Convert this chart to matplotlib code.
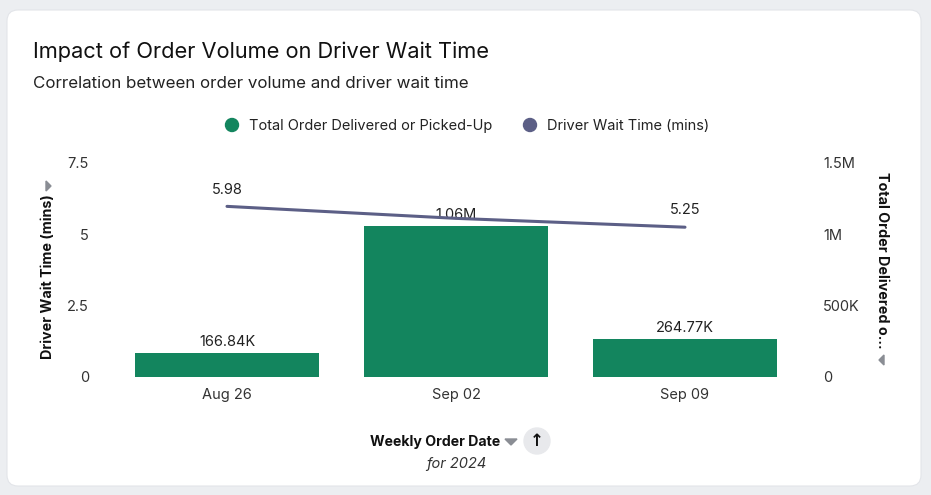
import numpy as np
import matplotlib
matplotlib.use('Agg')
import matplotlib.pyplot as plt
from matplotlib.patches import FancyBboxPatch, Circle, Polygon
from matplotlib.ticker import FixedLocator

plt.rcParams['font.family'] = ['Inter', 'DejaVu Sans']

weeks = ['Aug 26', 'Sep 02', 'Sep 09']
orders = [166840, 1060000, 264770]
order_labels = ['166.84K', '1.06M', '264.77K']
wait_time = [5.98, 5.56, 5.25]
wait_labels = ['5.98', '', '5.25']
left_ticks = [0, 2.5, 5, 7.5]
left_tick_labels = ['0', '2.5', '5', '7.5']
right_ticks = [0, 500000, 1000000, 1500000]
right_tick_labels = ['0', '500K', '1M', '1.5M']

GREEN = '#13855e'
PURPLE = '#5c5f86'
W, H = 931, 495


def px(x, y):
    return x / W, 1 - y / H


def inch(x, y):
    # pixel position -> inches from bottom-left, for round shapes
    return x / 100, (H - y) / 100


fig = plt.figure(figsize=(W / 100, H / 100), dpi=100)
fig.patch.set_facecolor('#eceef1')
tr = fig.dpi_scale_trans

# white card
card = FancyBboxPatch(inch(7, 486), 9.14, 4.76,
                      boxstyle='round,pad=0,rounding_size=0.11',
                      transform=tr, facecolor='white',
                      edgecolor='#e3e5e9', linewidth=0.8, zorder=0)
fig.add_artist(card)

ax = fig.add_axes([112.5 / W, 1 - 377 / H, 687 / W, 214 / H])
ax.set_facecolor('none')
ax2 = ax.twinx()

x = np.arange(len(weeks))

# bars on right axis
ax2.bar(x, orders, width=0.8, color=GREEN, zorder=2)
ax2.set_ylim(0, 1500000)
for xi, v, lab in zip(x, orders, order_labels):
    ax2.annotate(lab, (xi, v), xytext=(0, 3), textcoords='offset points',
                 ha='center', va='bottom', fontsize=10.5, color='#222222')

# line on left axis (drawn above bars)
ax.set_zorder(ax2.get_zorder() + 1)
ax.plot(x, wait_time, color=PURPLE, linewidth=2.2, solid_capstyle='round')
ax.set_ylim(0, 7.5)
for xi, v, lab in zip(x, wait_time, wait_labels):
    if lab:
        ax.annotate(lab, (xi, v), xytext=(0, 7), textcoords='offset points',
                    ha='center', va='bottom', fontsize=10.5, color='#222222')

ax.set_xlim(-0.5, 2.5)
ax.set_xticks(x)
ax.set_xticklabels(weeks)
ax.yaxis.set_major_locator(FixedLocator(left_ticks))
ax.set_yticklabels(left_tick_labels)
ax2.yaxis.set_major_locator(FixedLocator(right_ticks))
ax2.set_yticklabels(right_tick_labels)

for a in (ax, ax2):
    for s in a.spines.values():
        s.set_visible(False)
    a.tick_params(length=0, labelsize=10.5, labelcolor='#333333')
ax.tick_params(axis='y', pad=17)
ax2.tick_params(axis='y', pad=17)
ax.tick_params(axis='x', pad=8)

# axis titles
fig.text(*px(48, 277), 'Driver Wait Time (mins)', rotation=90, ha='center',
         va='center', fontsize=10.3, fontweight='bold', color='#111111')
fig.text(*px(882, 260), 'Total Order Delivered o...', rotation=-90, ha='center',
         va='center', fontsize=10.3, fontweight='bold', color='#111111')
fig.add_artist(Polygon([px(46, 181), px(46, 191), px(51, 186)], closed=True,
                       transform=fig.transFigure, color='#8a8d94'))
fig.add_artist(Polygon([px(884, 355), px(884, 365), px(879, 360)], closed=True,
                       transform=fig.transFigure, color='#8a8d94'))

# title and subtitle
fig.text(*px(33, 52), 'Impact of Order Volume on Driver Wait Time', ha='left',
         va='center', fontsize=15.7, color='#111111')
fig.text(*px(33, 84), 'Correlation between order volume and driver wait time',
         ha='left', va='center', fontsize=12.2, color='#222222')

# legend
fig.add_artist(Circle(inch(232, 125), 0.065, transform=tr, color=GREEN))
fig.text(*px(249, 126), 'Total Order Delivered or Picked-Up', ha='left',
         va='center', fontsize=10.5, color='#222222')
fig.add_artist(Circle(inch(530, 125), 0.065, transform=tr, color=PURPLE))
fig.text(*px(547, 126), 'Driver Wait Time (mins)', ha='left',
         va='center', fontsize=10.5, color='#222222')

# x axis title
fig.text(*px(435, 442), 'Weekly Order Date', ha='center', va='center',
         fontsize=10.2, fontweight='bold', color='#111111')
fig.add_artist(Polygon([px(505, 439), px(517, 439), px(511, 445)], closed=True,
                       transform=fig.transFigure, color='#8a8d94'))
fig.add_artist(Circle(inch(537, 441), 0.13, transform=tr, color='#e8e9ec'))
fig.text(*px(537, 441), '\u2191', ha='center', va='center', fontsize=12,
         fontweight='bold', color='#111111', family='DejaVu Sans')
fig.text(*px(456, 464), 'for 2024', ha='center', va='center', fontsize=10.5,
         style='italic', color='#333333')

fig.savefig('out.png', dpi=100, facecolor=fig.get_facecolor())
